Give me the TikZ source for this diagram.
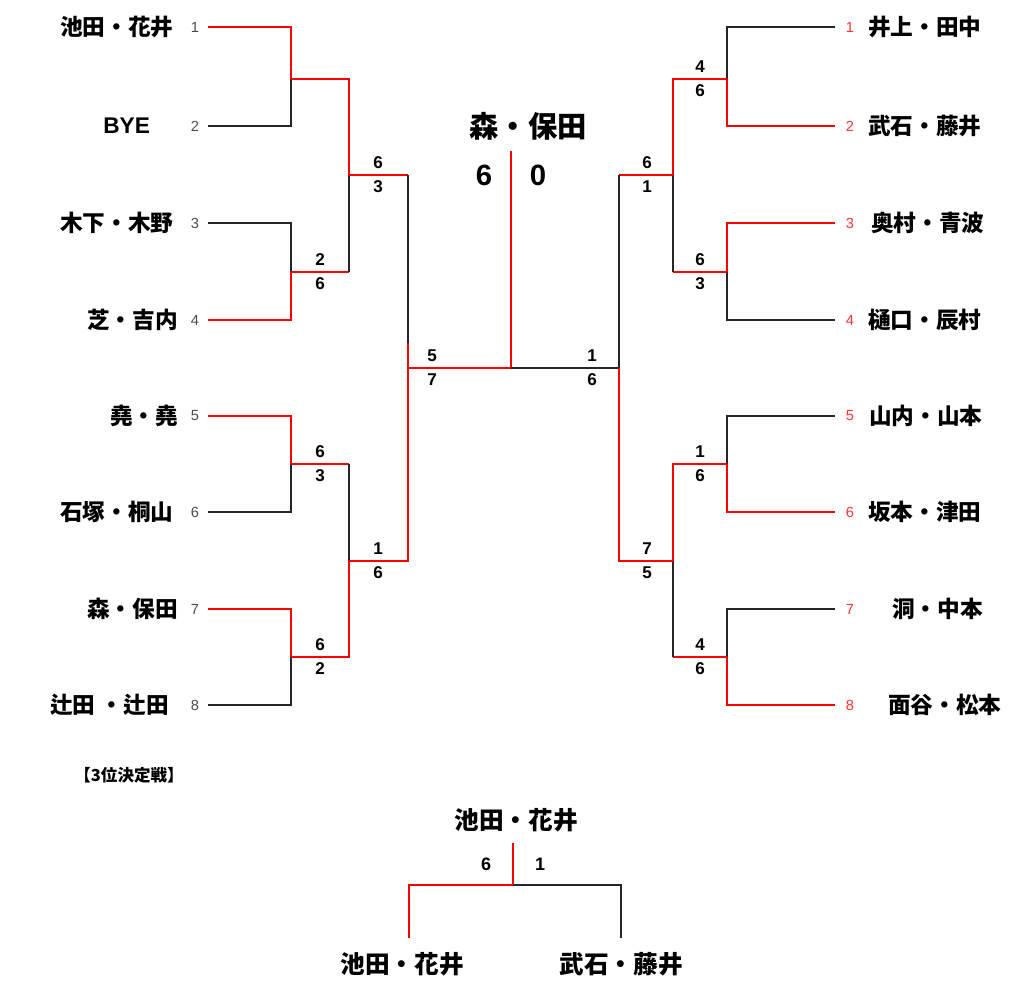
\documentclass[tikz,border=0pt]{standalone}
\usepackage{fontspec}
\setmainfont{Noto Sans CJK JP}
\newfontfamily\digitfont{Liberation Sans}

\tikzset{
  win/.style={draw=red, line width=1.3pt},
  lose/.style={draw=black!85, line width=1.3pt},
  player/.style={font=\fontsize{17}{19}\selectfont\bfseries, inner sep=0pt},
  seedno/.style={font=\digitfont\fontsize{11}{13}\selectfont, inner sep=0pt},
  score/.style={font=\digitfont\fontsize{12.8}{15}\selectfont\bfseries, inner sep=0pt},
  bigscore/.style={font=\digitfont\fontsize{22}{24}\selectfont\bfseries, inner sep=0pt},
  finalist/.style={font=\fontsize{18.5}{20}\selectfont\bfseries, inner sep=0pt},
}

\begin{document}
\begin{tikzpicture}[x=0.75pt, y=-0.75pt]
  \useasboundingbox (0,0) rectangle (1024,991);

  % left entries
  \foreach \n/\y/\nx/\name in {1/27/60/池田・花井, 2/126/103/{\digitfont\bfseries BYE}, 3/223/60/木下・木野,
      4/320/87/芝・吉内, 5/416/110/堯・堯, 6/512/60/石塚・桐山,
      7/609/87/森・保田, 8/705/50/辻田 ・辻田} {
    \node[player, anchor=west] (pl\n) at (\nx, \y) {\name};
    \node[seedno, text=black!70] (sl\n) at (195, \y) {\n};
    \coordinate (l\n) at (208, \y);
  }

  % right entries
  \foreach \n/\y/\nx/\name in {1/27/868/井上・田中, 2/126/868/武石・藤井, 3/223/871/奥村・青波,
      4/320/868/樋口・辰村, 5/416/869/山内・山本, 6/512/868/坂本・津田,
      7/609/892/洞・中本, 8/705/888/面谷・松本} {
    \node[player, anchor=west] (pr\n) at (\nx, \y) {\name};
    \node[seedno, text=red!80] (sr\n) at (850, \y) {\n};
    \coordinate (r\n) at (835, \y);
  }

  % junctions
  \coordinate (la1) at (291, 79);  \coordinate (ra1) at (727, 79);
  \coordinate (la2) at (291, 272); \coordinate (ra2) at (727, 272);
  \coordinate (la3) at (291, 464); \coordinate (ra3) at (727, 464);
  \coordinate (la4) at (291, 657); \coordinate (ra4) at (727, 657);
  \coordinate (lb1) at (349, 175); \coordinate (rb1) at (673, 175);
  \coordinate (lb2) at (349, 561); \coordinate (rb2) at (673, 561);
  \coordinate (lc) at (408, 368);  \coordinate (rc) at (619, 368);
  \coordinate (lcbreak) at (408, 343);
  \coordinate (mid) at (511, 368);
  \coordinate (top) at (511, 151);

  % first round
  \draw[win] (l1) -| (la1);
  \draw[lose] (l2) -| (la1);
  \draw[lose] (l3) -| (la2);
  \draw[win] (l4) -| (la2);
  \draw[win] (l5) -| (la3);
  \draw[lose] (l6) -| (la3);
  \draw[win] (l7) -| (la4);
  \draw[lose] (l8) -| (la4);

  \draw[lose] (r1) -| (ra1);
  \draw[win] (r2) -| (ra1);
  \draw[win] (r3) -| (ra2);
  \draw[lose] (r4) -| (ra2);
  \draw[lose] (r5) -| (ra3);
  \draw[win] (r6) -| (ra3);
  \draw[lose] (r7) -| (ra4);
  \draw[win] (r8) -| (ra4);

  % second round
  \draw[win] (la1) -| (lb1);
  \draw[win] (la2) -- (la2 -| lb1);
  \draw[lose] (la2 -| lb1) -- (lb1);
  \draw[win] (la3) -- (la3 -| lb2);
  \draw[lose] (la3 -| lb2) -- (lb2);
  \draw[win] (la4) -| (lb2);

  \draw[win] (ra1) -| (rb1);
  \draw[win] (ra2) -- (ra2 -| rb1);
  \draw[lose] (ra2 -| rb1) -- (rb1);
  \draw[win] (ra3) -| (rb2);
  \draw[win] (ra4) -- (ra4 -| rb2);
  \draw[lose] (ra4 -| rb2) -- (rb2);

  % semifinals
  \draw[win] (lb1) -- (lb1 -| lc);
  \draw[lose] (lb1 -| lc) -- (lcbreak);
  \draw[win] (lcbreak) -- (lc);
  \draw[win] (lb2) -| (lc);

  \draw[win] (rb1) -- (rb1 -| rc);
  \draw[lose] (rb1 -| rc) -- (rc);
  \draw[win] (rb2) -| (rc);

  % final
  \draw[win] (lc) -- (mid) -- (top);
  \draw[lose] (rc) -- (mid);

  % scores
  \foreach \x/\y/\a/\b in {320/272/2/6, 320/464/6/3, 320/657/6/2, 378/175/6/3,
      378/561/1/6, 432/368/5/7, 592/368/1/6, 647/175/6/1, 647/561/7/5,
      700/79/4/6, 700/272/6/3, 700/464/1/6, 700/657/4/6} {
    \node[score] (s\x-\y-a) at (\x, \y - 12) {\a};
    \node[score] (s\x-\y-b) at (\x, \y + 12) {\b};
  }

  \node[font=\fontsize{22}{24}\selectfont\bfseries, inner sep=0pt] (champ) at (528, 126) {森・保田};
  \node[bigscore] (champa) at (484, 175) {6};
  \node[bigscore] (champb) at (538, 175) {0};

  % third place
  \node[font=\fontsize{12.4}{14}\selectfont\bfseries, inner sep=0pt] (third) at (129, 775) {【3位決定戦】};
  \node[finalist] (twin) at (516, 820) {池田・花井};
  \node[score, font=\digitfont\fontsize{13.5}{15}\selectfont\bfseries] (ta) at (486, 864) {6};
  \node[score, font=\digitfont\fontsize{13.5}{15}\selectfont\bfseries] (tb) at (540, 864) {1};
  \node[finalist] (tleft) at (402, 964) {池田・花井};
  \node[finalist] (tright) at (621, 964) {武石・藤井};

  \coordinate (ttop) at (513, 843);
  \coordinate (tmid) at (513, 885);
  \coordinate (tl) at (409, 938);
  \coordinate (tr) at (621, 938);
  \draw[win] (tl) |- (tmid) -- (ttop);
  \draw[lose] (tr) |- (tmid);
\end{tikzpicture}
\end{document}
